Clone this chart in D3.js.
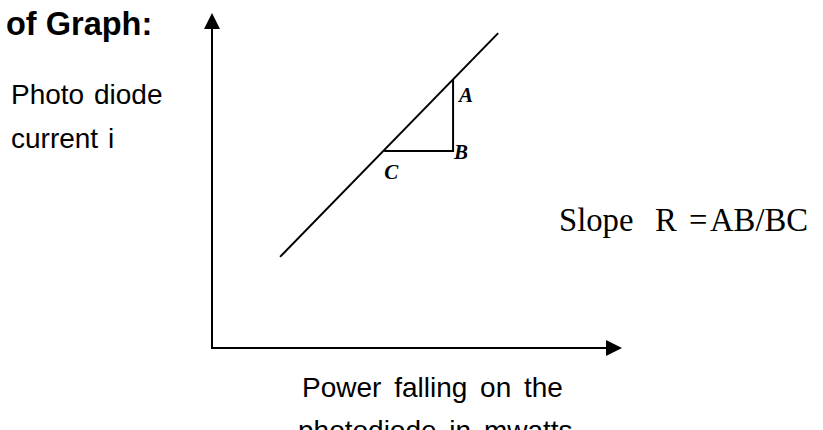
<!DOCTYPE html>
<html>
<head>
<meta charset="utf-8">
<script src="https://cdn.jsdelivr.net/npm/d3@7"></script>
<style>
  html, body { margin: 0; padding: 0; background: #fff; }
  svg { display: block; }
</style>
</head>
<body>
<svg id="chart" width="823" height="430"></svg>
<script>
// ---- data (schematic units 0..100 on both axes) ----
const titleText = "of Graph:";
const yLabelLines = ["Photo diode", "current i"];
const xLabelLines = ["Power falling on the", "photodiode in mwatts"];
const slopeParts = ["Slope", "R", "=", "AB/BC"];
const lineX = [16.6, 69.8];
const lineY = [27.2, 94.0];
const trianglePts = ["A", "B", "C"];
const triangleX = [58.8, 58.8, 42.0];
const triangleY = [80.3, 58.8, 58.8];

const svg = d3.select("#chart");
const x = d3.scaleLinear().domain([0, 100]).range([212, 622]);
const y = d3.scaleLinear().domain([0, 100]).range([348, 13]);

const black = "#000";
const sans = "'Liberation Sans', Arial, Helvetica, sans-serif";
const serif = "'Liberation Serif', 'Times New Roman', serif";

// axes (no ticks) via d3 axes
const xAxis = svg.append("g").attr("transform", `translate(0,${y(0)})`)
  .call(d3.axisBottom(x).ticks(0).tickSizeOuter(0));
const yAxis = svg.append("g").attr("transform", `translate(${x(0)},0)`)
  .call(d3.axisLeft(y).ticks(0).tickSizeOuter(0));
[xAxis, yAxis].forEach(g => g.select(".domain").attr("stroke", black).attr("stroke-width", 2));
xAxis.select(".domain").attr("d", `M${x(0)-1},0H${x(100)-10}`);
yAxis.select(".domain").attr("d", `M0,${y(0)+1}V${y(100)+10}`);

// arrowheads
const ah = 16, aw = 8;
svg.append("path")
  .attr("d", `M${x(100)},${y(0)} L${x(100)-ah},${y(0)-aw} L${x(100)-ah},${y(0)+aw} Z`)
  .attr("fill", black);
svg.append("path")
  .attr("d", `M${x(0)},${y(100)} L${x(0)-aw},${y(100)+ah} L${x(0)+aw},${y(100)+ah} Z`)
  .attr("fill", black);

// main straight line
const lineData = lineX.map((v, i) => [v, lineY[i]]);
svg.append("path")
  .datum(lineData)
  .attr("d", d3.line().x(d => x(d[0])).y(d => y(d[1])))
  .attr("fill", "none").attr("stroke", black).attr("stroke-width", 2);

// slope triangle A-B-C
const tri = trianglePts.map((n, i) => ({ n, x: triangleX[i], y: triangleY[i] }));
svg.append("path")
  .datum(tri)
  .attr("d", d3.line().x(d => x(d.x)).y(d => y(d.y)))
  .attr("fill", "none").attr("stroke", black).attr("stroke-width", 2);

const labelOffsets = { A: [6, 23], B: [1, 8], C: [0, 28] };
svg.selectAll("text.pt").data(tri).join("text")
  .attr("class", "pt")
  .attr("x", d => x(d.x) + labelOffsets[d.n][0])
  .attr("y", d => y(d.y) + labelOffsets[d.n][1])
  .attr("font-family", serif)
  .attr("font-style", "italic").attr("font-weight", "bold")
  .attr("font-size", 21)
  .attr("fill", black)
  .text(d => d.n);

// title fragment
svg.append("text")
  .attr("x", 6).attr("y", 35)
  .attr("font-family", sans)
  .attr("font-weight", "bold").attr("font-size", 32.5)
  .attr("fill", black).text(titleText);

// y label
svg.selectAll("text.ylab").data(yLabelLines).join("text")
  .attr("class", "ylab")
  .attr("x", 11).attr("y", (d, i) => 104 + i * 44)
  .attr("font-family", sans)
  .attr("font-size", 28)
  .attr("word-spacing", 2)
  .attr("fill", black).text(d => d);

// x label
svg.selectAll("text.xlab").data(xLabelLines).join("text")
  .attr("class", "xlab")
  .attr("x", (d, i) => [302, 298][i]).attr("y", (d, i) => 397 + i * 43)
  .attr("font-family", sans)
  .attr("font-size", 28)
  .attr("word-spacing", 5)
  .attr("fill", black).text(d => d);

// slope annotation
const slope = svg.append("text")
  .attr("y", 231)
  .attr("font-family", serif)
  .attr("font-size", 32.7)
  .attr("fill", black);
slope.selectAll("tspan").data(slopeParts).join("tspan")
  .attr("x", (d, i) => [559, 655, 689, 710][i])
  .text(d => d);
</script>
</body>
</html>
